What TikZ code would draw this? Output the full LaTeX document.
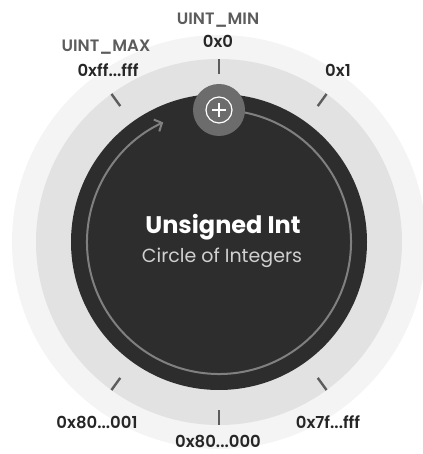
\documentclass[tikz,border=0pt]{standalone}
\usepackage{fontspec}
\setmainfont{Poppins}
\newfontfamily\medfont{Poppins SemiBold}
\usetikzlibrary{arrows.meta, positioning}
\definecolor{ringouter}{RGB}{244, 244, 244}
\definecolor{ringmid}{RGB}{226, 226, 226}
\definecolor{coredark}{RGB}{45, 45, 45}
\definecolor{orbitgray}{RGB}{128, 128, 128}
\definecolor{plusgray}{RGB}{108, 108, 108}
\definecolor{valtext}{RGB}{38, 38, 38}
\definecolor{nametext}{RGB}{92, 92, 92}
\definecolor{subtext}{RGB}{208, 208, 208}
\tikzset{
  tickmark/.style={draw=nametext, line width=2.4pt},
  orbit/.style={draw=orbitgray, line width=2pt,
                -{Straight Barb[length=6pt, width=13pt, line width=2pt]}},
  vallabel/.style={anchor=base, text=valtext, inner sep=0pt,
                   font=\medfont\fontsize{16.5}{19}\selectfont},
  namelabel/.style={anchor=base, text=nametext, inner sep=0pt,
                    font=\medfont\fontsize{16.5}{19}\selectfont},
  plusdisc/.style={circle, fill=plusgray, minimum size=52pt, inner sep=0pt},
}
\begin{document}
\begin{tikzpicture}[x=1pt, y=1pt]
        \useasboundingbox (-219,-212) rectangle (203,242);
        % rings
        \fill[ringouter] (0,0) circle (207);
        \fill[ringmid] (0,0) circle (183);
        \fill[coredark] (0,0) circle (148);
        \foreach \a in {90, 54, 126, 270, 306, 234}
          \draw[tickmark] (\a:168) -- (\a:183);
        \draw[orbit] (80:132) arc[start angle=80, end angle=-245, radius=132];
        % increment button
        \node[plusdisc] (incr) at (90:132) {};
        \draw[white, line width=1.2pt] (incr.center) circle (13);
        \draw[white, line width=1.2pt] ([xshift=-7pt]incr.center) -- ([xshift=7pt]incr.center)
                                       ([yshift=-7pt]incr.center) -- ([yshift=7pt]incr.center);
        % title
        \node[anchor=base, text=white, inner sep=0pt,
              font=\bfseries\fontsize{24}{27}\selectfont] (title) at (4,8) {Unsigned Int};
        \node[anchor=base, text=subtext, inner sep=0pt,
              font=\fontsize{19}{22}\selectfont] (subtitle) at (3,-21) {Circle of Integers};
        % labels
        \node[namelabel] (uintmin) at (-1,217) {UINT\_MIN};
        \node[vallabel] (zero) at (-1,194) {0x0};
        \node[namelabel] (uintmax) at (-113,190) {UINT\_MAX};
        \node[vallabel] (allones) at (-111,165) {0xff...fff};
        \node[vallabel] (one) at (119,165) {0x1};
        \node[vallabel] (minplus) at (-122,-186) {0x80...001};
        \node[vallabel] (maxpos) at (109,-186) {0x7f...fff};
        \node[vallabel] (halfway) at (-1,-205) {0x80...000};
\end{tikzpicture}
\end{document}
